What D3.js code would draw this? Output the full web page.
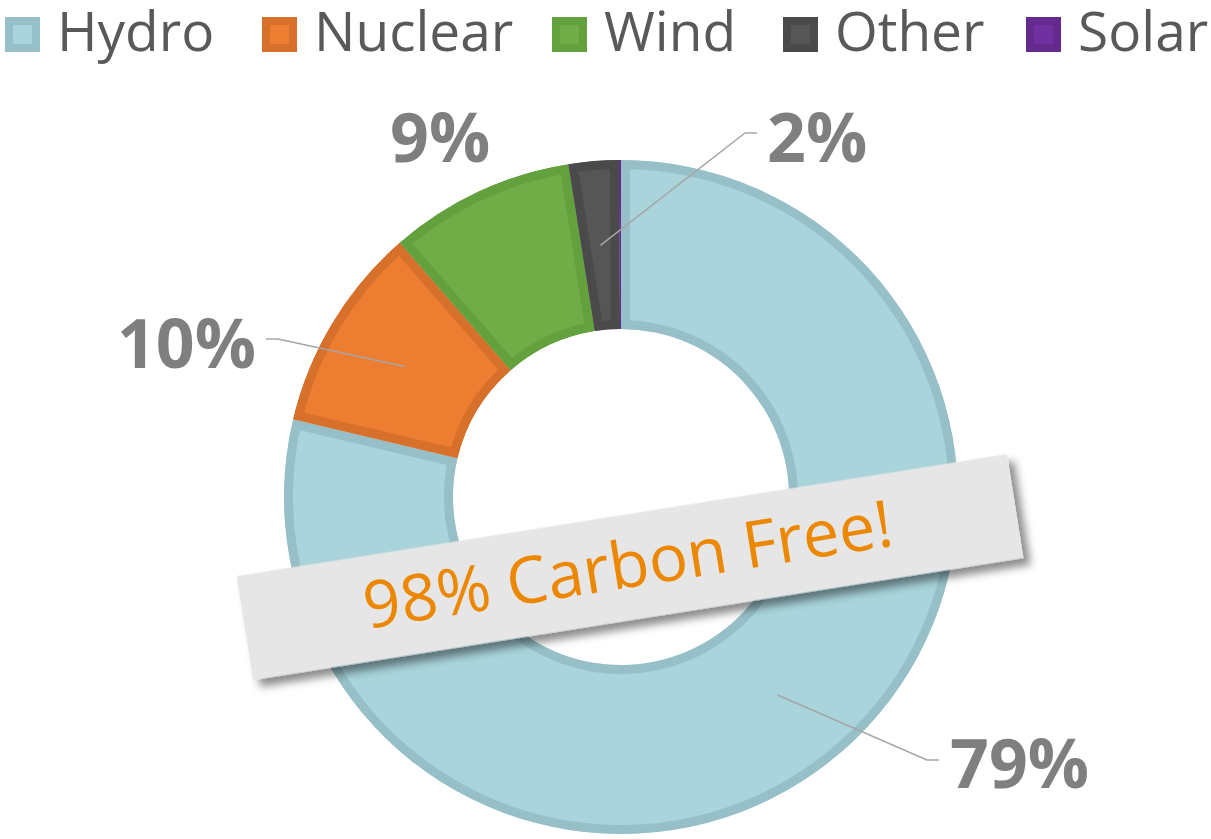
<!DOCTYPE html>
<html>
<head>
<meta charset="utf-8">
<script src="https://cdn.jsdelivr.net/npm/d3@7"></script>
<style>
  body { margin: 0; background: #fff; }
  svg { display: block; }
</style>
</head>
<body>
<svg width="1211" height="839"></svg>
<script>
//data
const sources = ['Hydro', 'Nuclear', 'Wind', 'Other', 'Solar'];
const shares = [78.7, 9.9, 8.9, 2.4, 0.1];
const fills = ['#a9d4dc', '#ed7d31', '#70ad47', '#565656', '#7030a0'];
const borders = ['#97bfc8', '#d6702b', '#63a03e', '#4a4a4a', '#642a8e'];
const bannerText = '98% Carbon Free!';

//config
const cx = 621, cy = 497;
const outerR = 337, innerR = 168;
const inset = 9;
const svg = d3.select('svg');

// label layout: elbow of the leader, end of the leader, text anchor
const labelLayout = [
  {elbow: [927, 760], end: [939, 760], tx: 950, ty: 788, anchor: 'start'},
  {elbow: [278, 339], end: [266, 339], tx: 256, ty: 368, anchor: 'end'},
  {elbow: null, end: null, tx: 390, ty: 162, anchor: 'start'},
  {elbow: [745, 133], end: [757, 133], tx: 767, ty: 162, anchor: 'start'},
  null
];

// legend layout
const legendX = [5, 262, 552, 783, 1026];

const defs = svg.append('defs');

//pie
const pie = d3.pie().sort(null).value(d => d);
const arc = d3.arc().innerRadius(innerR).outerRadius(outerR);
const arcs = pie(shares);

const g = svg.append('g').attr('transform', `translate(${cx},${cy})`);

//clip each slice so its stroke only shows on the inside
arcs.forEach((a, i) => {
  defs.append('clipPath').attr('id', 'clip' + i)
    .append('path').attr('d', arc(a));
});

g.selectAll('path.slice')
  .data(arcs)
  .enter()
  .append('path')
  .attr('class', 'slice')
  .attr('d', arc)
  .attr('fill', (d, i) => fills[i])
  .attr('stroke', (d, i) => borders[i])
  .attr('stroke-width', inset * 2)
  .attr('clip-path', (d, i) => `url(#clip${i})`);

//leader lines
arcs.forEach((a, i) => {
  const l = labelLayout[i];
  if (!l || !l.elbow) return;
  const [px, py] = arc.centroid(a);
  svg.append('path')
    .attr('d', d3.line()([[px + cx, py + cy], l.elbow, l.end]))
    .attr('fill', 'none')
    .attr('stroke', '#a6a6a6')
    .attr('stroke-width', 1.5);
});

//labels
arcs.forEach((a, i) => {
  const l = labelLayout[i];
  if (!l) return;
  svg.append('text')
    .attr('x', l.tx)
    .attr('y', l.ty)
    .attr('text-anchor', l.anchor)
    .attr('font-family', '"Open Sans", sans-serif')
    .attr('font-weight', 700)
    .attr('font-size', 68)
    .attr('fill', '#7f7f7f')
    .text(Math.round(shares[i]) + '%');
});

//legend
const leg = svg.append('g');
sources.forEach((s, i) => {
  leg.append('rect')
    .attr('x', legendX[i]).attr('y', 17)
    .attr('width', 35).attr('height', 35)
    .attr('fill', borders[i]);
  leg.append('rect')
    .attr('x', legendX[i] + 8).attr('y', 25)
    .attr('width', 19).attr('height', 19)
    .attr('fill', fills[i]);
  leg.append('text')
    .attr('x', legendX[i] + 52)
    .attr('y', 51)
    .attr('font-family', '"Open Sans", sans-serif')
    .attr('font-size', 55)
    .attr('fill', '#595959')
    .text(s);
});

//banner
const shadow = defs.append('filter').attr('id', 'shadow')
  .attr('x', '-10%').attr('y', '-30%').attr('width', '130%').attr('height', '180%');
shadow.append('feDropShadow')
  .attr('dx', 6).attr('dy', 8).attr('stdDeviation', 4)
  .attr('flood-color', '#000').attr('flood-opacity', 0.45);

const banner = svg.append('g')
  .attr('transform', 'translate(630,567) rotate(-9)');
banner.append('rect')
  .attr('x', -390).attr('y', -52.5)
  .attr('width', 780).attr('height', 105)
  .attr('fill', '#e6e6e6')
  .attr('filter', 'url(#shadow)');
banner.append('text')
  .attr('x', -2).attr('y', 20)
  .attr('text-anchor', 'middle')
  .attr('font-family', '"Open Sans", sans-serif')
  .attr('font-size', 65)
  .attr('fill', '#ec8700')
  .text(bannerText);
</script>
</body>
</html>
